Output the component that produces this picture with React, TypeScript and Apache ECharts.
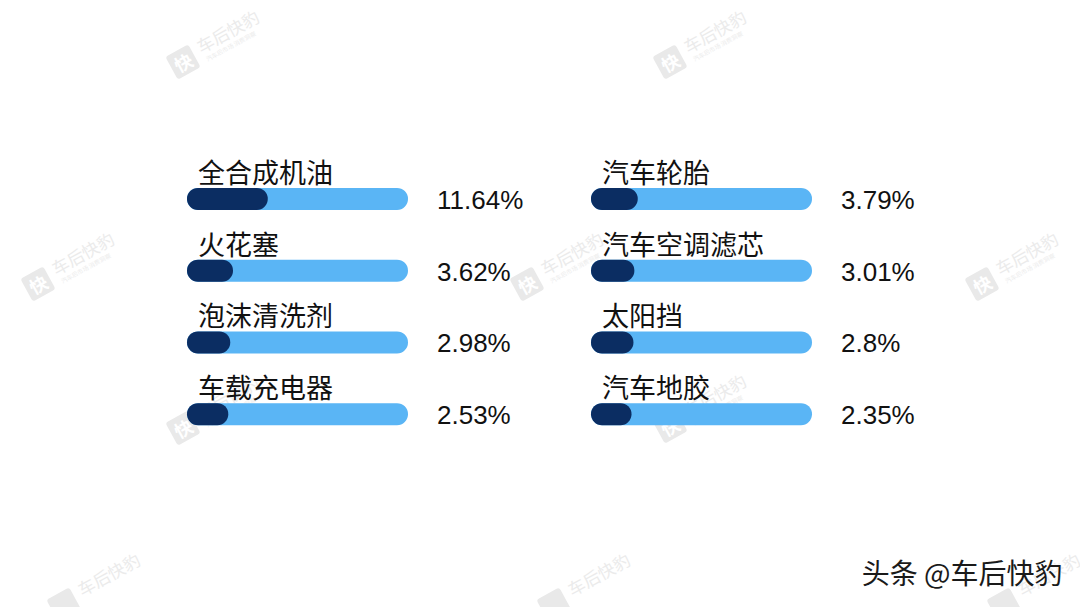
import React, { useEffect, useRef } from "react";
import * as echarts from "echarts";

const leftNames = ["全合成机油", "火花塞", "泡沫清洗剂", "车载充电器"];
const leftValues = [11.64, 3.62, 2.98, 2.53];
const rightNames = ["汽车轮胎", "汽车空调滤芯", "太阳挡", "汽车地胶"];
const rightValues = [3.79, 3.01, 2.8, 2.35];

const AXIS_MIN = -7;
const AXIS_MAX = 44;
const DARK = "#0b2d62";
const LIGHT = "#5ab5f5";

const watermarkPos = [
  [183, 62, 1],
  [670, 62, 1],
  [38, 284, 1],
  [527, 284, 1],
  [982, 284, 1],
  [183, 428, 1],
  [670, 426, 1],
  [64, 605, 0],
  [554, 605, 0],
  [1004, 605, 0],
];

function makeSeries(names: string[], values: number[], gridIndex: number) {
  return {
    type: "custom",
    xAxisIndex: gridIndex,
    yAxisIndex: gridIndex,
    data: values.map((v, i) => [v, i]),
    encode: { x: 0, y: 1 },
    renderItem: (params: any, api: any) => {
      const v = api.value(0);
      const idx = api.value(1);
      const start = api.coord([AXIS_MIN, idx]);
      const end = api.coord([AXIS_MAX, idx]);
      const fill = api.coord([v, idx]);
      const h = 22;
      const cy = start[1];
      return {
        type: "group",
        children: [
          {
            type: "rect",
            shape: { x: start[0], y: cy - h / 2, width: end[0] - start[0], height: h, r: h / 2 },
            style: { fill: LIGHT },
          },
          {
            type: "rect",
            shape: { x: start[0], y: cy - h / 2, width: fill[0] - start[0], height: h, r: h / 2 },
            style: { fill: DARK },
          },
          {
            type: "text",
            x: start[0] + 11,
            y: cy - 27.5,
            style: {
              text: names[idx],
              font: '27px "Noto Sans CJK SC"',
              fill: "#111111",
              verticalAlign: "middle",
              align: "left",
            },
          },
          {
            type: "text",
            x: end[0] + 29,
            y: cy + 1,
            style: {
              text: String(v) + "%",
              font: '26px "Liberation Sans"',
              fill: "#111111",
              verticalAlign: "middle",
              align: "left",
            },
          },
        ],
      };
    },
  };
}

export default function App() {
  const ref = useRef<HTMLDivElement>(null);
  useEffect(() => {
    if (!ref.current) return;
    const chart = echarts.init(ref.current, null, { renderer: "svg" });
    const watermarks = watermarkPos.map(([x, y, full]) => {
      const children: any[] = [
        {
          type: "rect",
          shape: { x: -13, y: -13, width: 26, height: 26, r: 3 },
          style: { fill: "#e9e9e9" },
        },
        {
          type: "text",
          x: 20,
          y: -6,
          style: {
            text: "车后快豹",
            font: '17px "Noto Sans CJK SC"',
            fill: "#ebebeb",
            align: "left",
            verticalAlign: "middle",
          },
        },
      ];
      if (full) {
        children.push(
          {
            type: "text",
            x: 0,
            y: 0,
            style: {
              text: "快",
              font: 'bold 18px "Noto Sans CJK SC"',
              fill: "#ffffff",
              align: "center",
              verticalAlign: "middle",
            },
          },
          {
            type: "text",
            x: 22,
            y: 9,
            style: {
              text: "汽车后市场 消费洞察",
              font: '6px "Noto Sans CJK SC"',
              fill: "#ececec",
              align: "left",
              verticalAlign: "middle",
            },
          }
        );
      }
      return { type: "group", x, y, rotation: 0.5, silent: true, z: 0, children };
    });
    chart.setOption({
      animation: false,
      backgroundColor: "#ffffff",
      grid: [
        { left: 187, width: 221, top: 163, height: 287 },
        { left: 591, width: 221, top: 163, height: 287 },
      ],
      xAxis: [
        { type: "value", gridIndex: 0, min: AXIS_MIN, max: AXIS_MAX, show: false },
        { type: "value", gridIndex: 1, min: AXIS_MIN, max: AXIS_MAX, show: false },
      ],
      yAxis: [
        { type: "category", gridIndex: 0, data: leftNames, inverse: true, show: false },
        { type: "category", gridIndex: 1, data: rightNames, inverse: true, show: false },
      ],
      graphic: [
        ...watermarks,
        {
          type: "text",
          right: 17,
          top: 557,
          z: 10,
          style: {
            text: "头条 @车后快豹",
            font: '28px "Noto Sans CJK SC"',
            fill: "#1a1a1a",
            stroke: "#ffffff",
            lineWidth: 1,
          },
        },
      ],
      series: [makeSeries(leftNames, leftValues, 0), makeSeries(rightNames, rightValues, 1)],
    });
    return () => chart.dispose();
  }, []);
  return (
    <div
      ref={ref}
      style={{ position: "absolute", left: 0, top: 0, width: 1080, height: 607 }}
    />
  );
}
